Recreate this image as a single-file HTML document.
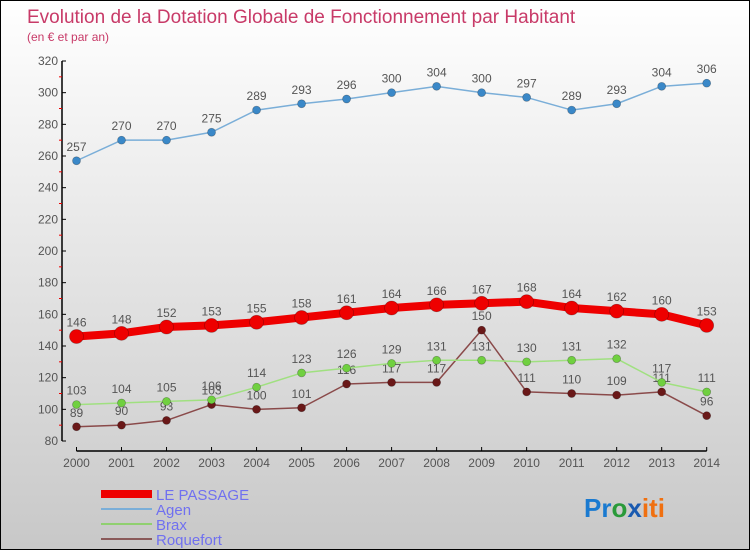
<!DOCTYPE html>
<html><head><meta charset="utf-8"><style>
body{margin:0}
#c{width:750px;height:550px;position:relative;overflow:hidden;box-sizing:border-box;border:1px solid #000;background:linear-gradient(#fff,#c8c8c8);font-family:"Liberation Sans","DejaVu Sans",sans-serif}
</style></head><body>
<div id="c">
<svg width="750" height="550" style="position:absolute;left:0;top:0" id="svg">
<text x="26" y="22" font-size="19" fill="#c83a68">Evolution de la Dotation Globale de Fonctionnement par Habitant</text>
<text x="26" y="40" font-size="12" fill="#c83a68">(en € et par an)</text>
<g id="axes"></g><g id="series"></g>
<g>
<line x1="100" y1="493" x2="151" y2="493" stroke="#e00" stroke-width="8"/>
<text x="155" y="499" font-size="15" fill="#7070f0">LE PASSAGE</text>
<line x1="100" y1="508" x2="151" y2="508" stroke="#7aaed8" stroke-width="2"/>
<text x="155" y="514" font-size="15" fill="#7070f0">Agen</text>
<line x1="100" y1="523" x2="151" y2="523" stroke="#90d070" stroke-width="2"/>
<text x="155" y="529" font-size="15" fill="#7070f0">Brax</text>
<line x1="100" y1="538" x2="151" y2="538" stroke="#8a5a5a" stroke-width="2"/>
<text x="155" y="544" font-size="15" fill="#7070f0">Roquefort</text>
</g>
<text x="583" y="516" font-size="26" font-weight="bold"><tspan fill="#1a7ad0">Pr</tspan><tspan fill="#2a9a3a">o</tspan><tspan fill="#1a5ab0">x</tspan><tspan fill="#f07010">iti</tspan></text>
</svg>
</div>
<script>
const years=[2000,2001,2002,2003,2004,2005,2006,2007,2008,2009,2010,2011,2012,2013,2014];
const yTicks=[80,100,120,140,160,180,200,220,240,260,280,300,320];
const lePassage=[146,148,152,153,155,158,161,164,166,167,168,164,162,160,153];
const agen=[257,270,270,275,289,293,296,300,304,300,297,289,293,304,306];
const brax=[103,104,105,106,114,123,126,129,131,131,130,131,132,117,111];
const roquefort=[89,90,93,103,100,101,116,117,117,150,111,110,109,111,96];
const NS='http://www.w3.org/2000/svg';
const X=i=>75.5+i*(705.7-75.5)/(years.length-1);
const Y=v=>440-(v-80)*(380/240);
function mk(tag,attrs,parent){const e=document.createElementNS(NS,tag);for(const k in attrs)e.setAttribute(k,attrs[k]);parent.appendChild(e);return e;}
const ax=document.getElementById('axes');
let yl=mk('line',{x1:61,y1:Y(320),x2:61,y2:Y(80),stroke:'#000','stroke-width':1.5},ax);


for(let v=90;v<320;v+=20){const t=mk('line',{x1:58,y1:Y(v),x2:61,y2:Y(v),stroke:'#e00'},ax);

}
yTicks.forEach(v=>{const t=mk('line',{x1:61,y1:Y(v),x2:65,y2:Y(v),stroke:'#000'},ax);


const l=mk('text',{x:57,y:Y(v)+4,'font-size':12,fill:'#555','text-anchor':'end'},ax);l.textContent=v;

});
let xl=mk('line',{x1:75.5,y1:450,x2:705.7,y2:450,stroke:'#000','stroke-width':1.5},ax);


years.forEach((y,i)=>{const t=mk('line',{x1:X(i),y1:446,x2:X(i),y2:450,stroke:'#000'},ax);


const l=mk('text',{x:X(i),y:466,'font-size':12,fill:'#555','text-anchor':'middle'},ax);l.textContent=y;

});
const sg=document.getElementById('series');
function series(data,name,color,dot,w,r){
const g=mk('g',{},sg);


const p=mk('polyline',{points:data.map((v,i)=>X(i)+','+Y(v)).join(' '),fill:'none',stroke:color,'stroke-width':w,'stroke-linejoin':'round'},g);


data.forEach((v,i)=>{const c=mk('circle',{cx:X(i),cy:Y(v),r:r,fill:dot,stroke:'rgba(0,0,0,0.3)','stroke-width':0.7},g);


const l=mk('text',{x:X(i),y:Y(v)-10,'font-size':12,fill:'#555','text-anchor':'middle'},g);l.textContent=v;

});}
series(roquefort,'roquefort','#8a4a4a','#6a1818',1.5,4);
series(brax,'brax','#a0e080','#70d040',1.5,4);
series(agen,'agen','#7aaed8','#3a88c8',1.5,4);
series(lePassage,'le-passage','#e00','#e00',8,7);
</script>
</body></html>
